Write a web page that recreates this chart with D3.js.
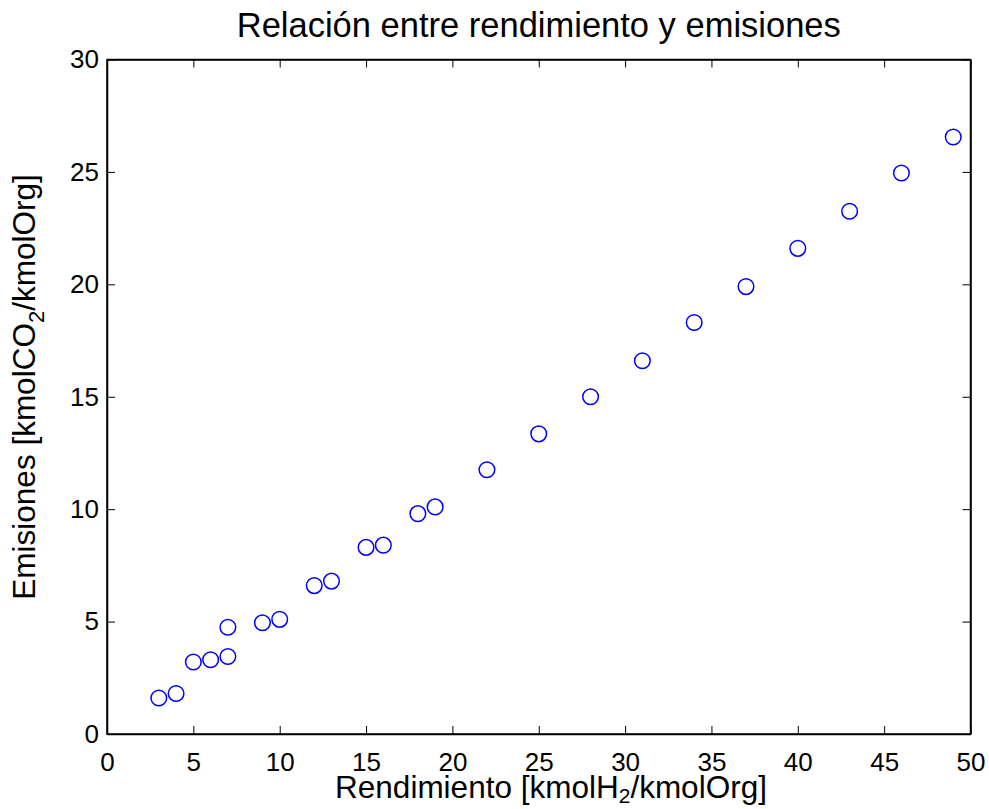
<!DOCTYPE html>
<html>
<head>
<meta charset="utf-8">
<script src="https://cdn.jsdelivr.net/npm/d3@7"></script>
<style>
  body { margin: 0; background: #fff; }
  svg { display: block; font-family: "Liberation Sans", Arial, sans-serif; }
</style>
</head>
<body>
<div id="chart"></div>
<script>
// # Data
const rendimiento = [3, 4, 5, 6, 7, 7, 9, 10, 12, 13, 15, 16, 18, 19, 22, 25, 28, 31, 34, 37, 40, 43, 46, 49]
const emisiones = [1.6, 1.8, 3.2, 3.3, 3.45, 4.75, 4.95, 5.1, 6.6, 6.8, 8.3, 8.4, 9.8, 10.1, 11.75, 13.35, 15.0, 16.6, 18.3, 19.9, 21.6, 23.25, 24.95, 26.55]
const xTicks = [0, 5, 10, 15, 20, 25, 30, 35, 40, 45, 50]
const yTicks = [0, 5, 10, 15, 20, 25, 30]

// # Layout
const width = 989
const height = 809
const margin = {top: 59.5, right: 18.5, bottom: 75, left: 107}
const tickLen = 8
const markerColor = '#0000ff'

const svg = d3.select('#chart')
    .append('svg')
    .attr('width', width)
    .attr('height', height)

const x = d3.scaleLinear().domain([0, 50]).range([margin.left, width - margin.right])
const y = d3.scaleLinear().domain([0, 30]).range([height - margin.bottom, margin.top])

// # Axes (ticks pointing inward, like a boxed plot)
svg.append('g')
    .attr('transform', `translate(0,${y(0)})`)
    .call(d3.axisBottom(x).tickValues(xTicks).tickSizeInner(-tickLen).tickSizeOuter(0).tickPadding(19))
svg.append('g')
    .attr('transform', `translate(0,${y(30)})`)
    .call(d3.axisTop(x).tickValues(xTicks).tickSizeInner(-tickLen).tickSizeOuter(0).tickFormat(''))
svg.append('g')
    .attr('transform', `translate(${x(0)},0)`)
    .call(d3.axisLeft(y).tickValues(yTicks).tickSizeInner(-tickLen).tickSizeOuter(0).tickPadding(8))
svg.append('g')
    .attr('transform', `translate(${x(50)},0)`)
    .call(d3.axisRight(y).tickValues(yTicks).tickSizeInner(-tickLen).tickSizeOuter(0).tickFormat(''))

svg.selectAll('.domain').attr('stroke', '#000').attr('stroke-width', 1.5)
svg.selectAll('.tick line').attr('stroke', '#000').attr('stroke-width', 1)
svg.selectAll('.tick text')
    .attr('fill', '#000')
    .style('font-size', '26px')
    .style('font-family', '"Liberation Sans", Arial, sans-serif')

// # Box
svg.append('rect')
    .attr('x', x(0))
    .attr('y', y(30))
    .attr('width', x(50) - x(0))
    .attr('height', y(0) - y(30))
    .attr('fill', 'none')
    .attr('stroke', '#000')
    .attr('stroke-width', 1.5)

// # Points
svg.append('g')
    .selectAll('circle')
    .data(rendimiento.map((d, i) => [d, emisiones[i]]))
    .enter()
    .append('circle')
    .attr('cx', d => x(d[0]))
    .attr('cy', d => y(d[1]))
    .attr('r', 7.8)
    .attr('fill', 'none')
    .attr('stroke', markerColor)
    .attr('stroke-width', 1.5)

// # Title
svg.append('text')
    .attr('x', (x(0) + x(50)) / 2)
    .attr('y', 37)
    .attr('text-anchor', 'middle')
    .style('font-size', '34.5px')
    .text('Relación entre rendimiento y emisiones')

// # X label
const xl = svg.append('text')
    .attr('x', 551)
    .attr('y', 798)
    .attr('text-anchor', 'middle')
    .style('font-size', '31.5px')
xl.append('tspan').text('Rendimiento [kmolH')
xl.append('tspan').attr('baseline-shift', '-25%').style('font-size', '21px').text('2')
xl.append('tspan').text('/kmolOrg]')

// # Y label
const yl = svg.append('text')
    .attr('transform', `translate(35,387) rotate(-90)`)
    .attr('text-anchor', 'middle')
    .style('font-size', '31.5px')
yl.append('tspan').text('Emisiones [kmolCO')
yl.append('tspan').attr('baseline-shift', '-40%').style('font-size', '22px').text('2')
yl.append('tspan').text('/kmolOrg]')
</script>
</body>
</html>
